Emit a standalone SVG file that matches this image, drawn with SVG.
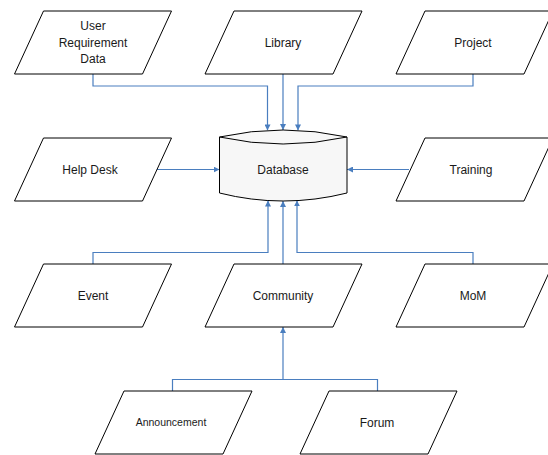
<svg xmlns="http://www.w3.org/2000/svg" width="548" height="455" viewBox="0 0 548 455">
<style>
.n{fill:#fff;stroke:#000;stroke-width:1}
.db{fill:#f7f7f7;stroke:#000;stroke-width:1}
.t{font-family:"Liberation Sans",Arial,sans-serif;font-size:12px;fill:#1a1a1a;text-anchor:middle}
.c{fill:none;stroke:#4a7ebf;stroke-width:1.2}
</style>
<defs>
<marker id="ah" viewBox="0 0 10 10" refX="10" refY="5" markerWidth="6" markerHeight="6" markerUnits="userSpaceOnUse" orient="auto">
<path d="M0,0 L10,5 L0,10 Z" fill="#4a7ebf"/>
</marker>
<path id="pg" d="M0,0 H128 L99,63 H-29 Z"/>
</defs>
<rect width="548" height="455" fill="#fff"/>
<g id="connectors">
<path class="c" d="M93,74 V86 H267.5 V130.4" marker-end="url(#ah)"/>
<path class="c" d="M283,74 V130" marker-end="url(#ah)"/>
<path class="c" d="M473,74 V86 H298 V130.4" marker-end="url(#ah)"/>
<path class="c" d="M156,169.5 H219.5" marker-end="url(#ah)"/>
<path class="c" d="M409,169.5 H347" marker-end="url(#ah)"/>
<path class="c" d="M93,264 V252.5 H268 V200.5" marker-end="url(#ah)"/>
<path class="c" d="M283,264 V201" marker-end="url(#ah)"/>
<path class="c" d="M473,264 V252.5 H297 V200.4" marker-end="url(#ah)"/>
<path class="c" d="M172.5,391 V379.5 H377.5 V391"/>
<path class="c" d="M283,379.5 V327" marker-end="url(#ah)"/>
</g>
<g id="database">
<path class="db" d="M219.5,137 Q283,123 347,137 L347,193 Q283,209 219.5,193 Z"/>
<path fill="none" stroke="#000" stroke-width="1" d="M219.5,137 Q283,151 347,137"/>
<text class="t" x="283" y="173.5">Database</text>
</g>
<g id="user-requirement-data">
<use href="#pg" class="n" x="43.5" y="11"/>
<text class="t" x="93" y="30">User</text>
<text class="t" x="93" y="46.5">Requirement</text>
<text class="t" x="93" y="63">Data</text>
</g>
<g id="library">
<use href="#pg" class="n" x="234" y="11"/>
<text class="t" x="283" y="46.5">Library</text>
</g>
<g id="project">
<use href="#pg" class="n" x="425" y="11"/>
<text class="t" x="473" y="46.5">Project</text>
</g>
<g id="help-desk">
<use href="#pg" class="n" x="43.5" y="138"/>
<text class="t" x="90" y="173.5">Help Desk</text>
</g>
<g id="training">
<use href="#pg" class="n" x="425" y="138"/>
<text class="t" x="471" y="173.5">Training</text>
</g>
<g id="event">
<use href="#pg" class="n" x="43.5" y="264"/>
<text class="t" x="93" y="299.5">Event</text>
</g>
<g id="community">
<use href="#pg" class="n" x="234" y="264"/>
<text class="t" x="283" y="299.5">Community</text>
</g>
<g id="mom">
<use href="#pg" class="n" x="425" y="264"/>
<text class="t" x="473" y="299.5">MoM</text>
</g>
<g id="announcement">
<use href="#pg" class="n" x="124" y="391"/>
<text class="t" x="171" y="425.5" style="font-size:10.5px">Announcement</text>
</g>
<g id="forum">
<use href="#pg" class="n" x="329" y="391"/>
<text class="t" x="377" y="426.5">Forum</text>
</g>
</svg>
